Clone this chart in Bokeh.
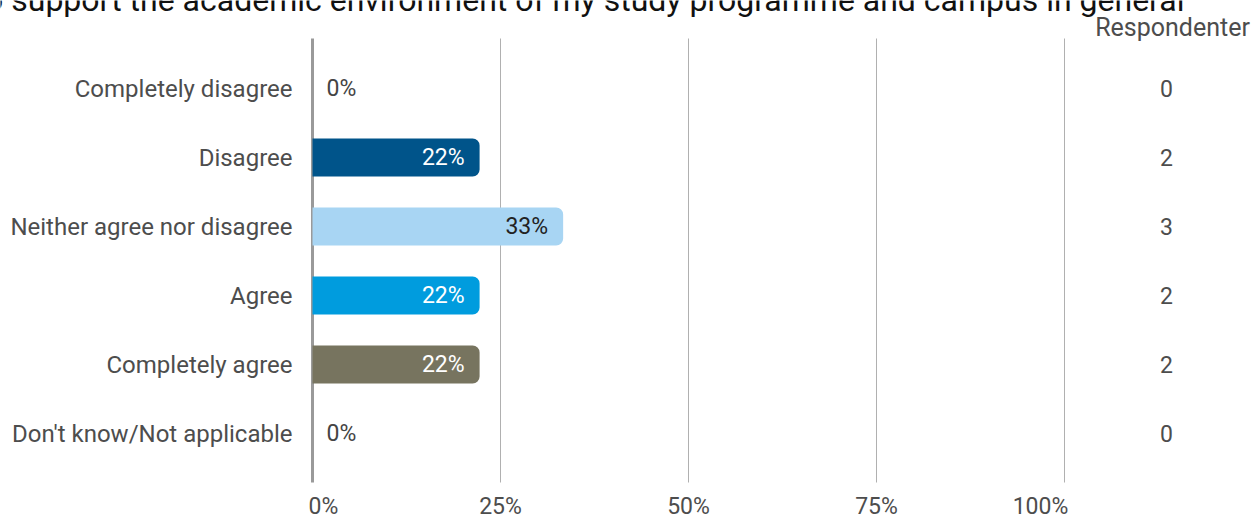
from bokeh.plotting import figure
from bokeh.models import ColumnDataSource, Range1d
from bokeh.core.properties import value
from bokeh.embed import file_html
from bokeh.resources import INLINE

# ---- data ----
title_text = "o support the academic environment of my study programme and campus in general"
categories = ["Completely disagree", "Disagree", "Neither agree nor disagree",
              "Agree", "Completely agree", "Don't know/Not applicable"]
percents = [0, 22.22, 33.33, 22.22, 22.22, 0]
pct_labels = ["0%", "22%", "33%", "22%", "22%", "0%"]
counts = [0, 2, 3, 2, 2, 0]
bar_colors = ["#00548A", "#00548A", "#A8D5F3", "#009CDE", "#77745F", "#77745F"]
label_colors = ["#444444", "#ffffff", "#222222", "#ffffff", "#ffffff", "#444444"]
x_ticks = [0, 25, 50, 75, 100]
x_tick_labels = ["0%", "25%", "50%", "75%", "100%"]
count_header = "Respondenter"

# ---- layout (pixels of the 1258x518 canvas) ----
FONT = "Roboto"
W, H = 1258, 518
X0_PX, PX_PER_PCT = 312, 7.52          # 0 % at x=312, 100 % at x=1064
Y0_PX, PX_PER_ROW = 88, 69             # first row centre, row spacing


def dx(px):
    return (px - X0_PX) / PX_PER_PCT


def dy(px):
    return (px - Y0_PX) / PX_PER_ROW


ypos = list(range(len(categories)))
grid_top, grid_bot = dy(38), dy(482)
count_x = dx(1166)
header_x = dx(1172)

p = figure(width=W, height=H, output_backend="svg", toolbar_location=None,
           x_range=Range1d(dx(0), dx(W)), y_range=Range1d(dy(H), dy(0)),
           x_axis_location=None, y_axis_location=None,
           min_border=0, outline_line_color=None)
p.grid.visible = False

# vertical grid lines and the 0 % axis line
p.segment(x0=x_ticks[1:], y0=grid_top, x1=x_ticks[1:], y1=grid_bot,
          line_color="#b0b0b0", line_width=1)
p.segment(x0=[x_ticks[0]], y0=grid_top, x1=[x_ticks[0]], y1=grid_bot,
          line_color="#9a9a9a", line_width=3)

# bars
src = ColumnDataSource(dict(y=ypos, right=percents, color=bar_colors))
p.hbar(y="y", left=0, right="right", height=0.55, color="color",
       line_color=None, source=src, border_radius=(0, 7, 7, 0))

# category labels
p.text(x=0, y=ypos, text=categories, text_align="right", text_baseline="middle",
       x_offset=-20, text_color="#4d4d4d", text_font=value(FONT), text_font_size="24px")

# value labels inside bars (non-zero) and beside axis (zero)
nz = [i for i, v in enumerate(percents) if v > 0]
zz = [i for i, v in enumerate(percents) if v == 0]
src_nz = ColumnDataSource(dict(x=[percents[i] for i in nz], y=[ypos[i] for i in nz],
                               t=[pct_labels[i] for i in nz], c=[label_colors[i] for i in nz]))
src_zz = ColumnDataSource(dict(x=[percents[i] for i in zz], y=[ypos[i] for i in zz],
                               t=[pct_labels[i] for i in zz], c=[label_colors[i] for i in zz]))
p.text(x="x", y="y", text="t", text_color="c", source=src_nz, text_align="right",
       text_baseline="middle", x_offset=-15, text_font=value(FONT), text_font_size="23px")
p.text(x="x", y="y", text="t", text_color="c", source=src_zz, text_align="left",
       text_baseline="middle", x_offset=14, text_font=value(FONT), text_font_size="23px")

# counts column + header
p.text(x=count_x, y=ypos, text=[str(c) for c in counts], text_align="center",
       text_baseline="middle", text_color="#4d4d4d", text_font=value(FONT),
       text_font_size="23px")
p.text(x=[header_x], y=[dy(27)], text=[count_header], text_align="center",
       text_baseline="middle", text_color="#4d4d4d", text_font=value(FONT),
       text_font_size="25px")

# x tick labels (edge labels nudged inwards, as in the reference)
tick_src = ColumnDataSource(dict(x=x_ticks, t=x_tick_labels, off=[11, 0, 0, 0, -24]))
p.text(x="x", y=dy(506), text="t", x_offset="off", source=tick_src, text_align="center",
       text_baseline="middle", text_color="#4d4d4d", text_font=value(FONT),
       text_font_size="23px")

# title (clipped at the top edge, as in the reference)
p.text(x=[dx(1184)], y=[dy(-1)], text=[title_text], text_align="right",
       text_baseline="alphabetic", text_color="#111111", text_font=value(FONT),
       text_font_size="32px")

open("out.html", "w").write(file_html(p, INLINE))
